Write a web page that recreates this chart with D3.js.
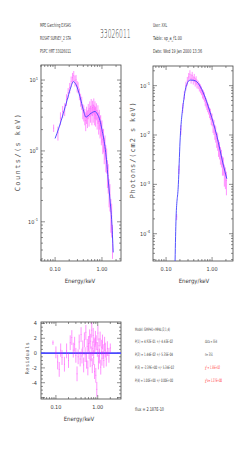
<!DOCTYPE html>
<html>
<head>
<meta charset="utf-8">
<script src="https://cdn.jsdelivr.net/npm/d3@7"></script>
<style>
  body { margin: 0; background: #fff; }
  svg { display: block; }
  text { font-family: "DejaVu Sans Condensed", "Liberation Sans Narrow", sans-serif; fill: #3a3a3a; }
  .mono { font-family: "DejaVu Sans Mono", monospace; fill: #555; }
  .thin { font-family: "DejaVu Sans ExtraLight", "DejaVu Sans", sans-serif; font-weight: 200; fill: #444; }
</style>
</head>
<body>
<div id="viz_area"></div>
<script>
// ---- data ----
// count spectrum: energy (keV), counts/(s keV), error
var cntE   = [0.093,0.115,0.13,0.145,0.16,0.175,0.19,0.205,0.22,0.235,0.25,0.265,0.28,0.295,0.31,0.33,0.35,0.37,0.39,0.41,0.43,0.45,0.47,0.49,0.51,0.53,0.55,0.57,0.59,0.61,0.63,0.65,0.67,0.69,0.71,0.73,0.76,0.79,0.82,0.85,0.88,0.91,0.94,0.97,1.00,1.04,1.08,1.12,1.16,1.21,1.26,1.31,1.36,1.42,1.48,1.55,1.61,1.68];
var cntV   = [2.1,1.8,2.9,3.6,3.9,5.3,6.6,7.8,9.6,10.8,11.5,9.8,10.1,8.2,7.9,6.4,5.3,4.8,3.7,3.5,3.1,2.7,3.3,2.9,3.7,3.1,4.0,3.4,4.3,3.2,4.1,3.5,4.4,3.3,3.9,3.2,3.7,2.9,3.4,2.6,2.9,2.3,2.4,1.9,2.0,1.45,1.5,1.1,1.2,0.85,0.78,0.52,0.45,0.28,0.24,0.14,0.12,0.06];
var cntErr = [0.25,0.4,0.6,0.7,0.8,1.0,1.1,1.3,1.6,1.8,1.9,1.7,1.7,1.5,1.4,1.2,1.1,1.0,0.9,0.9,0.8,0.8,0.9,0.8,0.9,0.9,1.0,0.9,1.1,0.9,1.0,1.0,1.1,1.0,1.1,1.0,1.0,0.9,1.0,0.9,0.9,0.8,0.8,0.7,0.7,0.55,0.55,0.45,0.45,0.35,0.3,0.22,0.2,0.12,0.1,0.07,0.06,0.03];
// folded model through the counts
var cntModelE = [0.10,0.12,0.15,0.18,0.21,0.245,0.28,0.34,0.40,0.456,0.55,0.71,0.80,0.906,1.00,1.16,1.25,1.36,1.50,1.61,1.74];
var cntModelV = [1.5,2.1,3.4,5.2,7.4,9.5,8.6,5.8,3.8,3.0,3.3,3.6,3.3,2.7,2.0,1.15,0.75,0.39,0.19,0.107,0.037];

// photon spectrum: energy, photons/(cm2 s keV), error
var phE   = [0.17,0.19,0.21,0.23,0.25,0.27,0.29,0.31,0.33,0.35,0.37,0.39,0.41,0.43,0.45,0.47,0.50,0.53,0.56,0.59,0.62,0.65,0.68,0.71,0.74,0.77,0.80,0.84,0.88,0.92,0.96,1.00,1.05,1.10,1.15,1.20,1.26,1.32,1.38,1.45,1.52,1.60,1.68,1.76,1.85,1.95,2.05];
var phV   = [2.2e-4,2.0e-3,1.3e-2,3.6e-2,6.5e-2,0.10,0.125,0.15,0.17,0.14,0.16,0.13,0.145,0.12,0.13,0.11,0.105,0.095,0.088,0.08,0.07,0.066,0.06,0.05,0.046,0.041,0.037,0.034,0.029,0.027,0.022,0.021,0.016,0.015,0.012,0.011,0.0085,0.0078,0.0058,0.0052,0.0041,0.0036,0.0026,0.0025,0.0017,0.0015,0.0012];
var phErr = [0.3e-4,0.4e-3,0.3e-2,0.8e-2,1.3e-2,0.02,0.025,0.03,0.035,0.03,0.03,0.025,0.028,0.024,0.025,0.022,0.02,0.019,0.018,0.016,0.015,0.014,0.013,0.011,0.01,0.009,0.008,0.008,0.007,0.007,0.006,0.006,0.005,0.005,0.004,0.004,0.003,0.003,0.0022,0.002,0.0016,0.0014,0.0011,0.001,0.0008,0.0007,0.0006];
var phModelE = [0.157,0.165,0.185,0.201,0.238,0.281,0.332,0.40,0.465,0.647,0.905,1.265,1.76,2.09];
var phModelV = [2.8e-5,2.1e-4,1.0e-3,7.2e-3,0.045,0.105,0.13,0.128,0.12,0.071,0.029,0.0097,0.00245,0.0013];

// residuals
var resE   = [0.085,0.10,0.11,0.12,0.13,0.14,0.16,0.18,0.20,0.22,0.24,0.26,0.28,0.30,0.32,0.34,0.36,0.38,0.40,0.42,0.44,0.46,0.48,0.50,0.52,0.54,0.56,0.58,0.60,0.62,0.64,0.66,0.68,0.70,0.72,0.74,0.76,0.78,0.80,0.82,0.84,0.86,0.88,0.90,0.92,0.95,0.98,1.01,1.04,1.07,1.10,1.14,1.18,1.22,1.26,1.30,1.35,1.40,1.46,1.52,1.60,1.70,1.85,2.0];
var resV   = [1.4,0.1,-1.2,-2.2,0.4,-0.6,-1.5,0.3,-1.0,1.4,2.1,0.4,1.2,-0.3,-2.8,-0.5,1.5,-0.8,2.5,-0.4,0.7,-1.6,1.8,-0.2,2.8,-1.1,0.9,-2.0,1.3,0.2,2.2,-0.9,1.6,-0.1,3.1,-1.7,0.6,2.4,-0.6,1.1,-2.5,0.9,2.0,-3.0,1.4,-4.9,0.5,2.7,-1.2,1.0,-0.4,1.9,-1.9,0.8,-0.7,1.5,0.2,-1.0,1.2,0.4,-0.8,0.6,-0.3,0.7];
var resErr = [0.3,0.8,1.0,1.0,0.9,1.0,1.0,1.0,1.0,1.0,1.0,1.0,1.0,1.0,1.0,1.0,1.0,1.0,1.0,1.0,1.0,1.0,1.0,1.0,1.0,1.0,1.0,1.0,1.0,1.0,1.0,1.0,1.0,1.0,1.0,1.0,1.0,1.0,1.0,1.0,1.0,1.0,1.0,1.0,1.0,1.0,1.0,1.0,1.0,1.0,1.0,1.0,1.0,1.0,1.0,1.0,1.0,1.0,1.0,1.0,1.0,1.0,1.0,0.6];
var resTicks = [4, 2, 0, -2, -4];

var headLeft  = ["MPE Garching EXSAS", "ROSAT SURVEY_2 STA", "PSPC HRT 33026011"];
var headRight = ["User: XXL", "Table: sp_a_f1.00", "Date: Wed 19 Jan 2000 13:36"];
var title = "33026011";
var fitLeft  = ["Model: GMPH1+MPAL(2,1,4)", "P(1) = 4.92E-01 +/- 4.43E-02", "P(2) = 1.44E-02 +/- 5.35E-04", "P(3) = -2.39E+00 +/- 5.34E-02", "P(4) = 1.00E+00 +/- 0.00E+00"];
var fitRight = ["data = 554", "n= 351"];
var chi2 = "1.55E+02", chi2nu = "1.27E+00";
var fluxText = "flux = 2.187E-10";

function __init__() {
    var w = 245, h = 474;
    var svg = d3.select("#viz_area").append("svg")
        .attr("width", w).attr("height", h);

    // header
    var hl = [27, 40, 53];
    headLeft.forEach(function(t, i) {
        svg.append("text").attr("x", 40).attr("y", hl[i]).attr("font-size", 5.5)
           .attr("textLength", 31).attr("lengthAdjust", "spacingAndGlyphs").text(t);
    });
    var hrLen = [14, 29, 49];
    headRight.forEach(function(t, i) {
        svg.append("text").attr("x", 153).attr("y", hl[i]).attr("font-size", 5.5)
           .attr("textLength", hrLen[i]).attr("lengthAdjust", "spacingAndGlyphs").text(t);
    });
    // big id, squeezed sideways
    svg.append("text").attr("class", "thin").attr("font-size", 12.5)
       .attr("transform", "translate(100,38) scale(0.48,1)").text(title);

    // panels
    var xTop = d3.scaleLog().domain([0.05, 2.55]).range([41, 121]);
    var yCnt = d3.scaleLog().domain([0.028, 16.3]).range([261, 65]);
    logPanel(svg, xTop, yCnt, [1, 0, -1]);
    drawData(svg, xTop, yCnt, cntE, cntV, cntErr, true);
    drawModel(svg, xTop, yCnt, cntModelE, cntModelV);

    var xPh = d3.scaleLog().domain([0.052, 2.85]).range([153, 233]);
    var yPh = d3.scaleLog().domain([2.8e-5, 0.25]).range([261, 66]);
    logPanel(svg, xPh, yPh, [-1, -2, -3, -4]);
    drawData(svg, xPh, yPh, phE, phV, phErr, true);
    drawModel(svg, xPh, yPh, phModelE, phModelV);

    // y labels
    svg.append("text").attr("class", "mono").attr("font-size", 7).attr("letter-spacing", 1.4)
       .attr("text-anchor", "middle").attr("transform", "translate(20,152) rotate(-90)")
       .text("Counts/(s keV)");
    svg.append("text").attr("class", "mono").attr("font-size", 7).attr("letter-spacing", 0.9)
       .attr("text-anchor", "middle").attr("transform", "translate(135,150) rotate(-90)")
       .text("Photons/(cm2 s keV)");
    svg.append("text").attr("font-size", 6).attr("text-anchor", "middle")
       .attr("x", 80).attr("y", 283).text("Energy/keV");
    svg.append("text").attr("font-size", 6).attr("text-anchor", "middle")
       .attr("x", 194).attr("y", 283).text("Energy/keV");

    // residuals
    var xRes = d3.scaleLog().domain([0.044, 3.6]).range([41, 121]);
    var yRes = d3.scaleLinear().domain([-6.2, 4.2]).range([399, 322]);
    resPanel(svg, xRes, yRes);
    svg.append("line").attr("x1", 41).attr("x2", 121)
       .attr("y1", yRes(0)).attr("y2", yRes(0))
       .style("stroke", "#4a4aff").style("stroke-width", 1.6);
    drawData(svg, xRes, yRes, resE, resV, resErr, false);
    svg.append("text").attr("class", "mono").attr("font-size", 5).attr("letter-spacing", 0.6)
       .attr("text-anchor", "middle").attr("transform", "translate(29,358) rotate(-90)").text("Residuals");
    svg.append("text").attr("font-size", 6).attr("text-anchor", "middle")
       .attr("x", 79).attr("y", 421).text("Energy/keV");

    // fit info
    var fy = [331, 343, 356, 369, 382];
    var fl = [35, 38, 38, 39, 38];
    fitLeft.forEach(function(t, i) {
        svg.append("text").attr("x", 135).attr("y", fy[i]).attr("font-size", 4.6)
           .attr("textLength", fl[i]).attr("lengthAdjust", "spacingAndGlyphs").text(t);
    });
    svg.append("text").attr("x", 205).attr("y", 343).attr("font-size", 4.6)
       .attr("textLength", 12).attr("lengthAdjust", "spacingAndGlyphs").text(fitRight[0]);
    svg.append("text").attr("x", 205).attr("y", 356).attr("font-size", 4.6)
       .attr("textLength", 8).attr("lengthAdjust", "spacingAndGlyphs").text(fitRight[1]);
    svg.append("text").attr("x", 205).attr("y", 369).attr("font-size", 4.6).style("fill", "#ff2020")
       .attr("textLength", 15).attr("lengthAdjust", "spacingAndGlyphs").text("\u03c7\u00b2 = " + chi2);
    svg.append("text").attr("x", 205).attr("y", 382).attr("font-size", 4.6).style("fill", "#ff2020")
       .attr("textLength", 17).attr("lengthAdjust", "spacingAndGlyphs").text("\u03c7\u00b2\u03bd= " + chi2nu);
    svg.append("text").attr("x", 135).attr("y", 411).attr("font-size", 5)
       .attr("textLength", 29).attr("lengthAdjust", "spacingAndGlyphs").text(fluxText);
}

// frame + inward log ticks on all four sides
function logPanel(svg, x, y, decades) {
    var g = svg.append("g");
    var x0 = x.range()[0], x1 = x.range()[1], y0 = y.range()[1], y1 = y.range()[0];
    g.append("rect").attr("x", x0).attr("y", y0).attr("width", x1 - x0).attr("height", y1 - y0)
     .style("fill", "none").style("stroke", "#444").style("stroke-width", 0.8);
    xTicks(g, x, y0, y1);
    y.ticks().forEach(function(t) {
        var major = Math.abs(Math.log10(t) - Math.round(Math.log10(t))) < 1e-6;
        var len = major ? 4 : 2;
        g.append("line").attr("x1", x0).attr("x2", x0 + len).attr("y1", y(t)).attr("y2", y(t))
         .style("stroke", "#444").style("stroke-width", 0.6);
        g.append("line").attr("x1", x1).attr("x2", x1 - len).attr("y1", y(t)).attr("y2", y(t))
         .style("stroke", "#444").style("stroke-width", 0.6);
    });
    decades.forEach(function(p) {
        var t = g.append("text").attr("x", x0 - 3).attr("y", y(Math.pow(10, p)) + 2)
                 .attr("text-anchor", "end").attr("font-size", 5.5);
        t.append("tspan").text("10");
        t.append("tspan").attr("font-size", 4).attr("dy", -2.5).text(p);
    });
}

function xTicks(g, x, y0, y1) {
    x.ticks().forEach(function(t) {
        var major = Math.abs(Math.log10(t) - Math.round(Math.log10(t))) < 1e-6;
        var len = major ? 4 : 2;
        g.append("line").attr("x1", x(t)).attr("x2", x(t)).attr("y1", y1).attr("y2", y1 - len)
         .style("stroke", "#444").style("stroke-width", 0.6);
        g.append("line").attr("x1", x(t)).attr("x2", x(t)).attr("y1", y0).attr("y2", y0 + len)
         .style("stroke", "#444").style("stroke-width", 0.6);
    });
    [0.1, 1].forEach(function(t) {
        g.append("text").attr("x", x(t)).attr("y", y1 + 10).attr("text-anchor", "middle")
         .attr("font-size", 5.5).text(d3.format(".2f")(t));
    });
}

function resPanel(svg, x, y) {
    var g = svg.append("g");
    var x0 = x.range()[0], x1 = x.range()[1], y0 = y.range()[1], y1 = y.range()[0];
    g.append("rect").attr("x", x0).attr("y", y0).attr("width", x1 - x0).attr("height", y1 - y0)
     .style("fill", "none").style("stroke", "#444").style("stroke-width", 0.8);
    xTicks(g, x, y0, y1);
    y.ticks(20).forEach(function(t) {
        var len = (Math.round(t) % 2 === 0 && Number.isInteger(t)) ? 4 : 2;
        g.append("line").attr("x1", x0).attr("x2", x0 + len).attr("y1", y(t)).attr("y2", y(t))
         .style("stroke", "#444").style("stroke-width", 0.6);
        g.append("line").attr("x1", x1).attr("x2", x1 - len).attr("y1", y(t)).attr("y2", y(t))
         .style("stroke", "#444").style("stroke-width", 0.6);
    });
    resTicks.forEach(function(t) {
        g.append("text").attr("x", x0 - 4).attr("y", y(t) + 2).attr("text-anchor", "end")
         .attr("font-size", 5.5).text(t);
    });
}

function drawData(svg, x, y, E, V, Err, isLog) {
    var lo = y.domain()[0], hi = y.domain()[1];
    var clip = function(v) { return Math.max(Math.min(v, hi), lo); };
    var g = svg.append("g").style("stroke", "#ff00ff").style("stroke-width", 0.7).style("opacity", 0.6);
    E.forEach(function(e, i) {
        var v = V[i], er = Err[i];
        var bot = isLog ? Math.max(v - er, v * 0.45) : v - er;
        g.append("line").attr("x1", x(e)).attr("x2", x(e))
         .attr("y1", y(clip(bot))).attr("y2", y(clip(v + er)));
        g.append("line").attr("x1", x(e * 0.975)).attr("x2", x(e * 1.025))
         .attr("y1", y(v)).attr("y2", y(v));
    });
}

function drawModel(svg, x, y, E, V) {
    var line = d3.line().x(function(d) { return x(d[0]); }).y(function(d) { return y(d[1]); })
                 .curve(d3.curveMonotoneX);
    svg.append("path").datum(d3.zip(E, V)).attr("d", line)
       .style("fill", "none").style("stroke", "#4040ff").style("stroke-width", 0.9);
}

window.onload = __init__;
</script>
</body>
</html>
